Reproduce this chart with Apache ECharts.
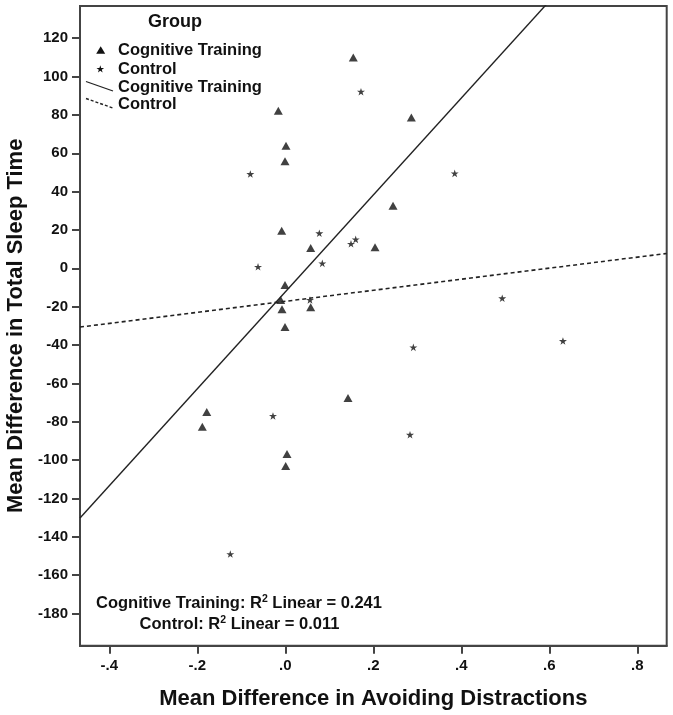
<!DOCTYPE html>
<html>
<head>
<meta charset="utf-8">
<script src="https://cdn.jsdelivr.net/npm/echarts@6/dist/echarts.min.js"></script>
<style>
html,body{margin:0;padding:0;background:#fff;}
#chart{width:673px;height:715px;}
</style>
</head>
<body>
<div id="chart"></div>
<script>
// ---- data ----
var ctX = [0.1545, -0.0159, 0.0016, -0.0007, -0.0082, 0.0577, 0.2864, 0.2448, 0.2039, -0.0007, -0.0105, -0.0075, -0.0007, 0.0577, -0.1786, -0.1886, 0.1425, 0.0039, 0.0009];
var ctY = [110.0, 82.2, 63.9, 55.8, 19.6, 10.6, 78.7, 32.6, 11.0, -8.7, -16.5, -21.4, -30.6, -20.3, -74.9, -82.6, -67.6, -96.8, -103.1];
var ctrlX = [0.172, -0.0795, 0.0773, 0.1493, 0.160, 0.0841, -0.062, 0.385, 0.493, 0.0561, -0.028, -0.125, 0.291, 0.631, 0.2834];
var ctrlY = [92.1, 49.2, 18.3, 12.8, 15.1, 2.6, 0.8, 49.5, -15.6, -16.5, -77.0, -149.0, -41.2, -37.9, -86.8];
// fitted lines: [intercept, slope]
var ctFit = [-12.3, 252.7];
var ctrlFit = [-17.2, 28.8];
var xTicks = [-0.4, -0.2, 0.0, 0.2, 0.4, 0.6, 0.8];
var xTickLabels = ['-.4', '-.2', '.0', '.2', '.4', '.6', '.8'];
var yTicks = [-180, -160, -140, -120, -100, -80, -60, -40, -20, 0, 20, 40, 60, 80, 100, 120];
var xRange = [-0.4666, 0.8668];
var yRange = [-196.8, 136.8];
var groupNames = ['Cognitive Training', 'Control'];
var r2Values = ['0.241', '0.011'];

// ---- build ----
function pairs(xs, ys) { return xs.map(function (x, i) { return [x, ys[i]]; }); }
function fitLine(f) { return xRange.map(function (x) { return [x, f[0] + f[1] * x]; }); }
var FONT = "'Liberation Sans', Arial, sans-serif";
var INK = '#111';
var FRAME = '#444';
var starPath = 'path://M50 0 L61.23 34.55 L97.55 34.55 L68.16 55.9 L79.39 90.45 L50 69.1 L20.61 90.45 L31.84 55.9 L2.45 34.55 L38.77 34.55 Z';

function starPoints(cx, cy, r) {
  var pts = [];
  for (var i = 0; i < 10; i++) {
    var a = -Math.PI / 2 + i * Math.PI / 5;
    var rr = i % 2 === 0 ? r : r * 0.382;
    pts.push([cx + rr * Math.cos(a), cy + rr * Math.sin(a)]);
  }
  return pts;
}

var chart = echarts.init(document.getElementById('chart'), null, { renderer: 'canvas' });
var option = {
  backgroundColor: '#fff',
  animation: false,
  textStyle: { fontFamily: FONT },
  grid: { left: 80, right: 6.3, top: 6, bottom: 69.3, containLabel: false, outerBoundsMode: 'none',
    show: true, borderColor: FRAME, borderWidth: 2, backgroundColor: '#fff' },
  xAxis: {
    type: 'value', min: xRange[0], max: xRange[1],
    name: 'Mean Difference in Avoiding Distractions', nameLocation: 'middle', nameGap: 42,
    nameTextStyle: { fontSize: 22, fontWeight: 'bold', color: INK, fontFamily: FONT },
    axisLine: { show: true, onZero: false, lineStyle: { color: FRAME, width: 2 } },
    axisTick: { show: true, customValues: xTicks, length: 8, lineStyle: { color: FRAME, width: 2 } },
    axisLabel: { customValues: xTicks, margin: 13, fontSize: 15, fontWeight: 'bold', color: INK, fontFamily: FONT,
      formatter: function (v) { var i = xTicks.findIndex(function (t) { return Math.abs(t - v) < 1e-6; }); return i >= 0 ? xTickLabels[i] : ''; } },
    splitLine: { show: false }
  },
  yAxis: {
    type: 'value', min: yRange[0], max: yRange[1],
    name: 'Mean Difference in Total Sleep Time', nameLocation: 'middle', nameGap: 53,
    nameTextStyle: { fontSize: 22, fontWeight: 'bold', color: INK, fontFamily: FONT },
    axisLine: { show: true, onZero: false, lineStyle: { color: FRAME, width: 2 } },
    axisTick: { show: true, customValues: yTicks, length: 8, lineStyle: { color: FRAME, width: 2 } },
    axisLabel: { customValues: yTicks, margin: 12, fontSize: 15, fontWeight: 'bold', color: INK, fontFamily: FONT },
    splitLine: { show: false }
  },
  series: [
    { name: groupNames[0], type: 'scatter', data: pairs(ctX, ctY), symbol: 'triangle', symbolSize: [9, 8],
      itemStyle: { color: INK } },
    { name: groupNames[1], type: 'scatter', data: pairs(ctrlX, ctrlY), symbol: starPath, symbolSize: 8, symbolKeepAspect: true,
      itemStyle: { color: INK } },
    { name: groupNames[0] + ' fit', type: 'line', data: fitLine(ctFit), symbol: 'none', clip: true,
      lineStyle: { color: '#222', width: 1.4 } },
    { name: groupNames[1] + ' fit', type: 'line', data: fitLine(ctrlFit), symbol: 'none', clip: true,
      lineStyle: { color: '#222', width: 1.6, type: [4, 3] } }
  ],
  graphic: [
    { type: 'text', left: 175 - 27, top: 13, style: { text: 'Group', font: "bold 18px " + FONT, fill: INK } },
    { type: 'polygon', shape: { points: [[96.2, 53.8], [105.2, 53.8], [100.7, 46.3]] }, style: { fill: INK } },
    { type: 'text', x: 118, y: 50, style: { text: groupNames[0], font: "bold 16.5px " + FONT, fill: INK, textVerticalAlign: 'middle' } },
    { type: 'polygon', shape: { points: starPoints(100.3, 69.3, 4) }, style: { fill: INK } },
    { type: 'text', x: 118, y: 69, style: { text: groupNames[1], font: "bold 16.5px " + FONT, fill: INK, textVerticalAlign: 'middle' } },
    { type: 'line', shape: { x1: 86, y1: 81.5, x2: 113, y2: 91 }, style: { stroke: '#222', lineWidth: 1.3 } },
    { type: 'text', x: 118, y: 87, style: { text: groupNames[0], font: "bold 16.5px " + FONT, fill: INK, textVerticalAlign: 'middle' } },
    { type: 'line', shape: { x1: 86, y1: 98.5, x2: 113, y2: 108 }, style: { stroke: '#222', lineWidth: 1.4, lineDash: [3, 2] } },
    { type: 'text', x: 118, y: 104, style: { text: groupNames[1], font: "bold 16.5px " + FONT, fill: INK, textVerticalAlign: 'middle' } },
    { type: 'text', x: 239, y: 603,
      style: { text: groupNames[0] + ': R{sup|2} Linear = ' + r2Values[0], font: "bold 16.5px " + FONT, fill: INK, textAlign: 'center', textVerticalAlign: 'middle',
        rich: { sup: { fontSize: 10.5, fontWeight: 'bold', fontFamily: FONT, fill: INK, padding: [0, 0, 8, 0] } } } },
    { type: 'text', x: 239.5, y: 624,
      style: { text: groupNames[1] + ': R{sup|2} Linear = ' + r2Values[1], font: "bold 16.5px " + FONT, fill: INK, textAlign: 'center', textVerticalAlign: 'middle',
        rich: { sup: { fontSize: 10.5, fontWeight: 'bold', fontFamily: FONT, fill: INK, padding: [0, 0, 8, 0] } } } }
  ]
};
chart.setOption(option);
</script>
</body>
</html>
